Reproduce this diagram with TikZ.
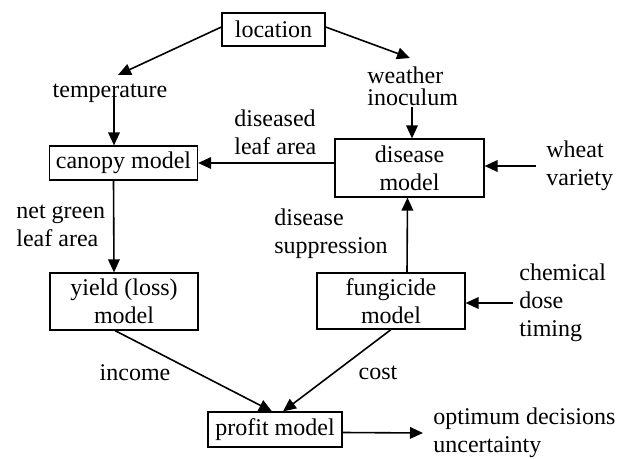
\documentclass[tikz,border=0pt]{standalone}
\usepackage{fontspec}
\setmainfont{Liberation Serif}
\usetikzlibrary{arrows.meta,calc}
\begin{document}
\begin{tikzpicture}[x=0.5pt,y=-0.5pt,
  font=\fontsize{12}{14}\selectfont,
  box/.style={draw,line width=0.6pt,inner sep=0pt,align=center},
  lbl/.style={inner sep=0pt,align=left,anchor=west},
  arr/.style={line width=0.8pt,-{Triangle[length=6.5pt,width=5.8pt]}}]
\useasboundingbox (0,0) rectangle (621,459);
% boxes
\node[box,minimum width=51.5pt,minimum height=16.5pt] (loc) at (273.5,29.5) {location};
\node[box,minimum width=74pt,minimum height=17pt] (canopy) at (123.5,163) {canopy model};
\node[box,minimum width=74.5pt,minimum height=29pt] (disease) at (409.5,168) {disease\\model};
\node[box,minimum width=74pt,minimum height=28.5pt] (yield) at (124,301.5) {yield (loss)\\model};
\node[box,minimum width=74pt,minimum height=28pt] (fung) at (391,301) {fungicide\\model};
\node[box,minimum width=67pt,minimum height=17.5pt] (profit) at (275,429.5) {profit model};
% labels
\node[inner sep=0pt] (temp) at (110,93) {temperature};
\node[lbl,font=\fontsize{12}{11}\selectfont] (weather) at (367,86) {weather\\inoculum};
\node[lbl] (dla) at (234,132) {diseased\\leaf area};
\node[lbl] (wheat) at (546,166) {wheat\\variety};
\node[lbl] (ngla) at (16,226) {net green\\leaf area};
\node[lbl] (supp) at (274,234) {disease\\suppression};
\node[lbl] (chem) at (519,303) {chemical\\dose\\timing};
\node[inner sep=0pt] (income) at (135,373) {income};
\node[inner sep=0pt] (cost) at (378,373) {cost};
\node[lbl] (opt) at (433,433) {optimum decisions\\uncertainty};
% connectors
\coordinate (tL) at (118,75);
\coordinate (tR) at (410,58);
\draw[arr] ($(loc.west)+(0,-2.5)$) -- (tL);
\draw[arr] ($(loc.east)+(0,-2.5)$) -- (tR);
\draw[arr] ($(temp.south)+(4,-8)$) -- ($(canopy.north)+(-9.5,0)$);
\draw[arr] ($(disease.north)+(2.5,-31)$) -- ($(disease.north)+(2.5,0)$);
\draw[arr] (disease.west |- canopy.east) -- (canopy.east);
\draw[arr] ($(wheat.west)+(-10,0)$) -- (wheat.west -| disease.east);
\draw[arr] ($(canopy.south)+(-10,0)$) -- ($(yield.north)+(-10,0)$);
\draw[arr] ($(fung.north)+(16,0)$) -- ($(disease.south)+(-2,0)$);
\draw[arr] ($(chem.west)+(-6,0)$) -- (chem.west -| fung.east);
\draw[arr] ($(yield.south)+(-9,0)$) -- ($(profit.north)+(-3,0)$);
\draw[arr] (fung.south) -- ($(profit.north)+(8,0)$);
\draw[arr] ($(profit.east)+(0,3)$) -- ($(opt.west)+(-10,0)$);
\end{tikzpicture}
\end{document}
